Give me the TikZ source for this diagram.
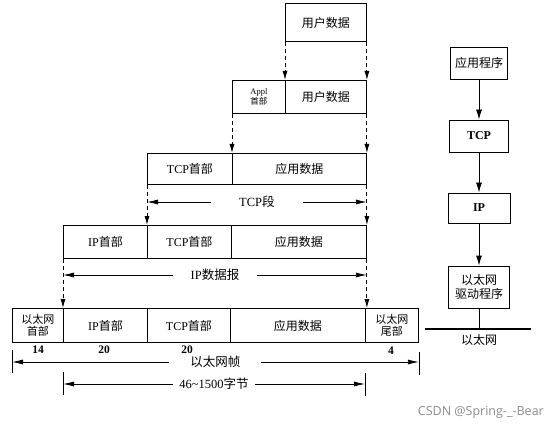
\documentclass[tikz,border=0pt]{standalone}
\usepackage{fontspec}
\setmainfont{Liberation Serif}
\newfontfamily\zhf{Noto Sans CJK SC}
\newfontfamily\wmf{Open Sans}
\newcommand\zz[1]{{\zhf #1}}
\usetikzlibrary{arrows.meta}
\begin{document}
\begin{tikzpicture}[x=1pt,y=-1pt,
  cell/.style={draw, line width=0.9pt, anchor=north west, inner sep=0pt,
    font=\fontsize{12}{13}\selectfont, align=center},
  rbox/.style={draw, line width=0.9pt, inner sep=0pt,
    font=\fontsize{12}{14.5}\selectfont, align=center},
  dasharr/.style={line width=0.9pt, dash pattern=on 4pt off 3pt,
    -{Latex[length=9pt,width=5pt]}},
  span/.style={line width=0.8pt, {Latex[length=11pt,width=5pt]}-{Latex[length=11pt,width=5pt]}},
  spanlbl/.style={fill=white, inner ysep=1pt, font=\fontsize{12.5}{14}\selectfont},
  tick/.style={line width=0.8pt},
  num/.style={font=\bfseries\fontsize{11.5}{12}\selectfont, inner sep=0pt},
  sarr/.style={line width=0.9pt, -{Latex[length=10pt,width=6pt]}}]
\path[use as bounding box, fill=white] (0,0) rectangle (545,430);

% row 1
\node[cell, minimum width=81pt, minimum height=38pt] (u1) at (285,3) {\zz{用户数据}};
% row 2
\node[cell, minimum width=53pt, minimum height=33pt, font=\fontsize{8.5}{8.5}\selectfont] (appl) at (232,80) {Appl\\\zz{首部}};
\node[cell, minimum width=81pt, minimum height=33pt] (ud2) at (285,80) {\zz{用户数据}};
% row 3
\node[cell, minimum width=85pt, minimum height=31pt] (tcph3) at (147,153) {TCP\zz{首部}};
\node[cell, minimum width=134pt, minimum height=31pt] (ad3) at (232,153) {\zz{应用数据}};
% row 4
\node[cell, minimum width=84pt, minimum height=33pt] (iph4) at (63,225) {IP\zz{首部}};
\node[cell, minimum width=84pt, minimum height=33pt] (tcph4) at (147,225) {TCP\zz{首部}};
\node[cell, minimum width=135pt, minimum height=33pt] (ad4) at (231,225) {\zz{应用数据}};
% row 5
\node[cell, minimum width=51pt, minimum height=34pt, font=\fontsize{11}{12}\selectfont] (eth5) at (12,308) {\zz{以太网}\\\zz{首部}};
\node[cell, minimum width=84pt, minimum height=34pt] (ip5) at (63,308) {IP\zz{首部}};
\node[cell, minimum width=83pt, minimum height=34pt] (tcp5) at (147,308) {TCP\zz{首部}};
\node[cell, minimum width=135pt, minimum height=34pt] (ad5) at (230,308) {\zz{应用数据}};
\node[cell, minimum width=53pt, minimum height=34pt, font=\fontsize{11}{12}\selectfont] (tr5) at (365,308) {\zz{以太网}\\\zz{尾部}};

% numbers
\node[num] (n14) at (38,350) {14};
\node[num] (n20a) at (104,350) {20};
\node[num] (n20b) at (187,350) {20};
\node[num] (n4) at (391,351) {4};

% dashed arrows
\draw[dasharr] (u1.south west) -- (ud2.north west);
\draw[dasharr] (u1.south east) -- (ud2.north east);
\draw[dasharr] (appl.south west) -- (ad3.north west);
\draw[dasharr] (ud2.south east) -- (ad3.north east);
\draw[dasharr] (tcph3.south west) -- (tcph4.north west);
\draw[dasharr] (ad3.south east) -- (ad4.north east);
\draw[dasharr] (iph4.south west) -- (ip5.north west);
\draw[dasharr] (ad4.south east) -- (ad4.south east |- ad5.north);

% span arrows
\coordinate (s1l) at (tcph3.south west |- 0,202);
\coordinate (s1r) at (ad3.south east |- 0,202);
\draw[span] (s1l) -- (s1r) node[midway, spanlbl, inner xsep=28pt] (lbl1) {TCP\zz{段}};

\coordinate (s2l) at (iph4.south west |- 0,275);
\coordinate (s2r) at (ad4.south east |- 0,275);
\draw[span] (s2l) -- (s2r) node[midway, spanlbl, inner xsep=18pt] (lbl2) {IP\zz{数据报}};

\coordinate (s3l) at (eth5.south west |- 0,362);
\coordinate (s3r) at (tr5.south east |- 0,362);
\coordinate (t3la) at (eth5.south west |- 0,350);
\coordinate (t3lb) at (eth5.south west |- 0,373);
\coordinate (t3ra) at (tr5.south east |- 0,352);
\coordinate (t3rb) at (tr5.south east |- 0,375);
\draw[tick] (t3la) -- (t3lb);
\draw[tick] (t3ra) -- (t3rb);
\draw[span] (s3l) -- (s3r) node[midway, spanlbl, inner xsep=21pt] (lbl3) {\zz{以太网帧}};

\coordinate (s4l) at (ip5.south west |- 0,384);
\coordinate (s4r) at (tr5.south west |- 0,384);
\coordinate (t4la) at (ip5.south west |- 0,372);
\coordinate (t4lb) at (ip5.south west |- 0,395);
\coordinate (t4ra) at (tr5.south west |- 0,373);
\coordinate (t4rb) at (tr5.south west |- 0,396);
\draw[tick] (t4la) -- (t4lb);
\draw[tick] (t4ra) -- (t4rb);
\draw[span] (s4l) -- (s4r) node[midway, spanlbl, inner xsep=6pt] (lbl4) {46\textasciitilde1500\zz{字节}};

% right stack
\node[rbox, minimum width=57pt, minimum height=32pt] (app) at (479,63) {\zz{应用程序}};
\node[rbox, minimum width=59pt, minimum height=32pt] (tcp) at (479,136) {\textbf{TCP}};
\node[rbox, minimum width=62pt, minimum height=30pt] (ip) at (479,208) {\textbf{IP}};
\node[rbox, minimum width=61pt, minimum height=42pt] (drv) at (479,287) {\zz{以太网}\\\zz{驱动程序}};
\draw[sarr] (app) -- (tcp);
\draw[sarr] (tcp) -- (ip);
\draw[sarr] (ip) -- (drv);
\coordinate (busl) at (425,329);
\coordinate (busr) at (531,329);
\draw[line width=2.2pt] (busl) -- (busr);
\draw[line width=0.9pt] (drv.south) -- (drv.south |- busl);
\node[font=\fontsize{12}{13}\selectfont, inner sep=0pt] (ethl) at (479,340) {\zz{以太网}};

% watermark
\node[font=\wmf\fontsize{12.5}{14}\selectfont, text=black!45, anchor=east, inner sep=0pt] (wm) at (544,412) {CSDN @Spring-\_-Bear};
\end{tikzpicture}
\end{document}
